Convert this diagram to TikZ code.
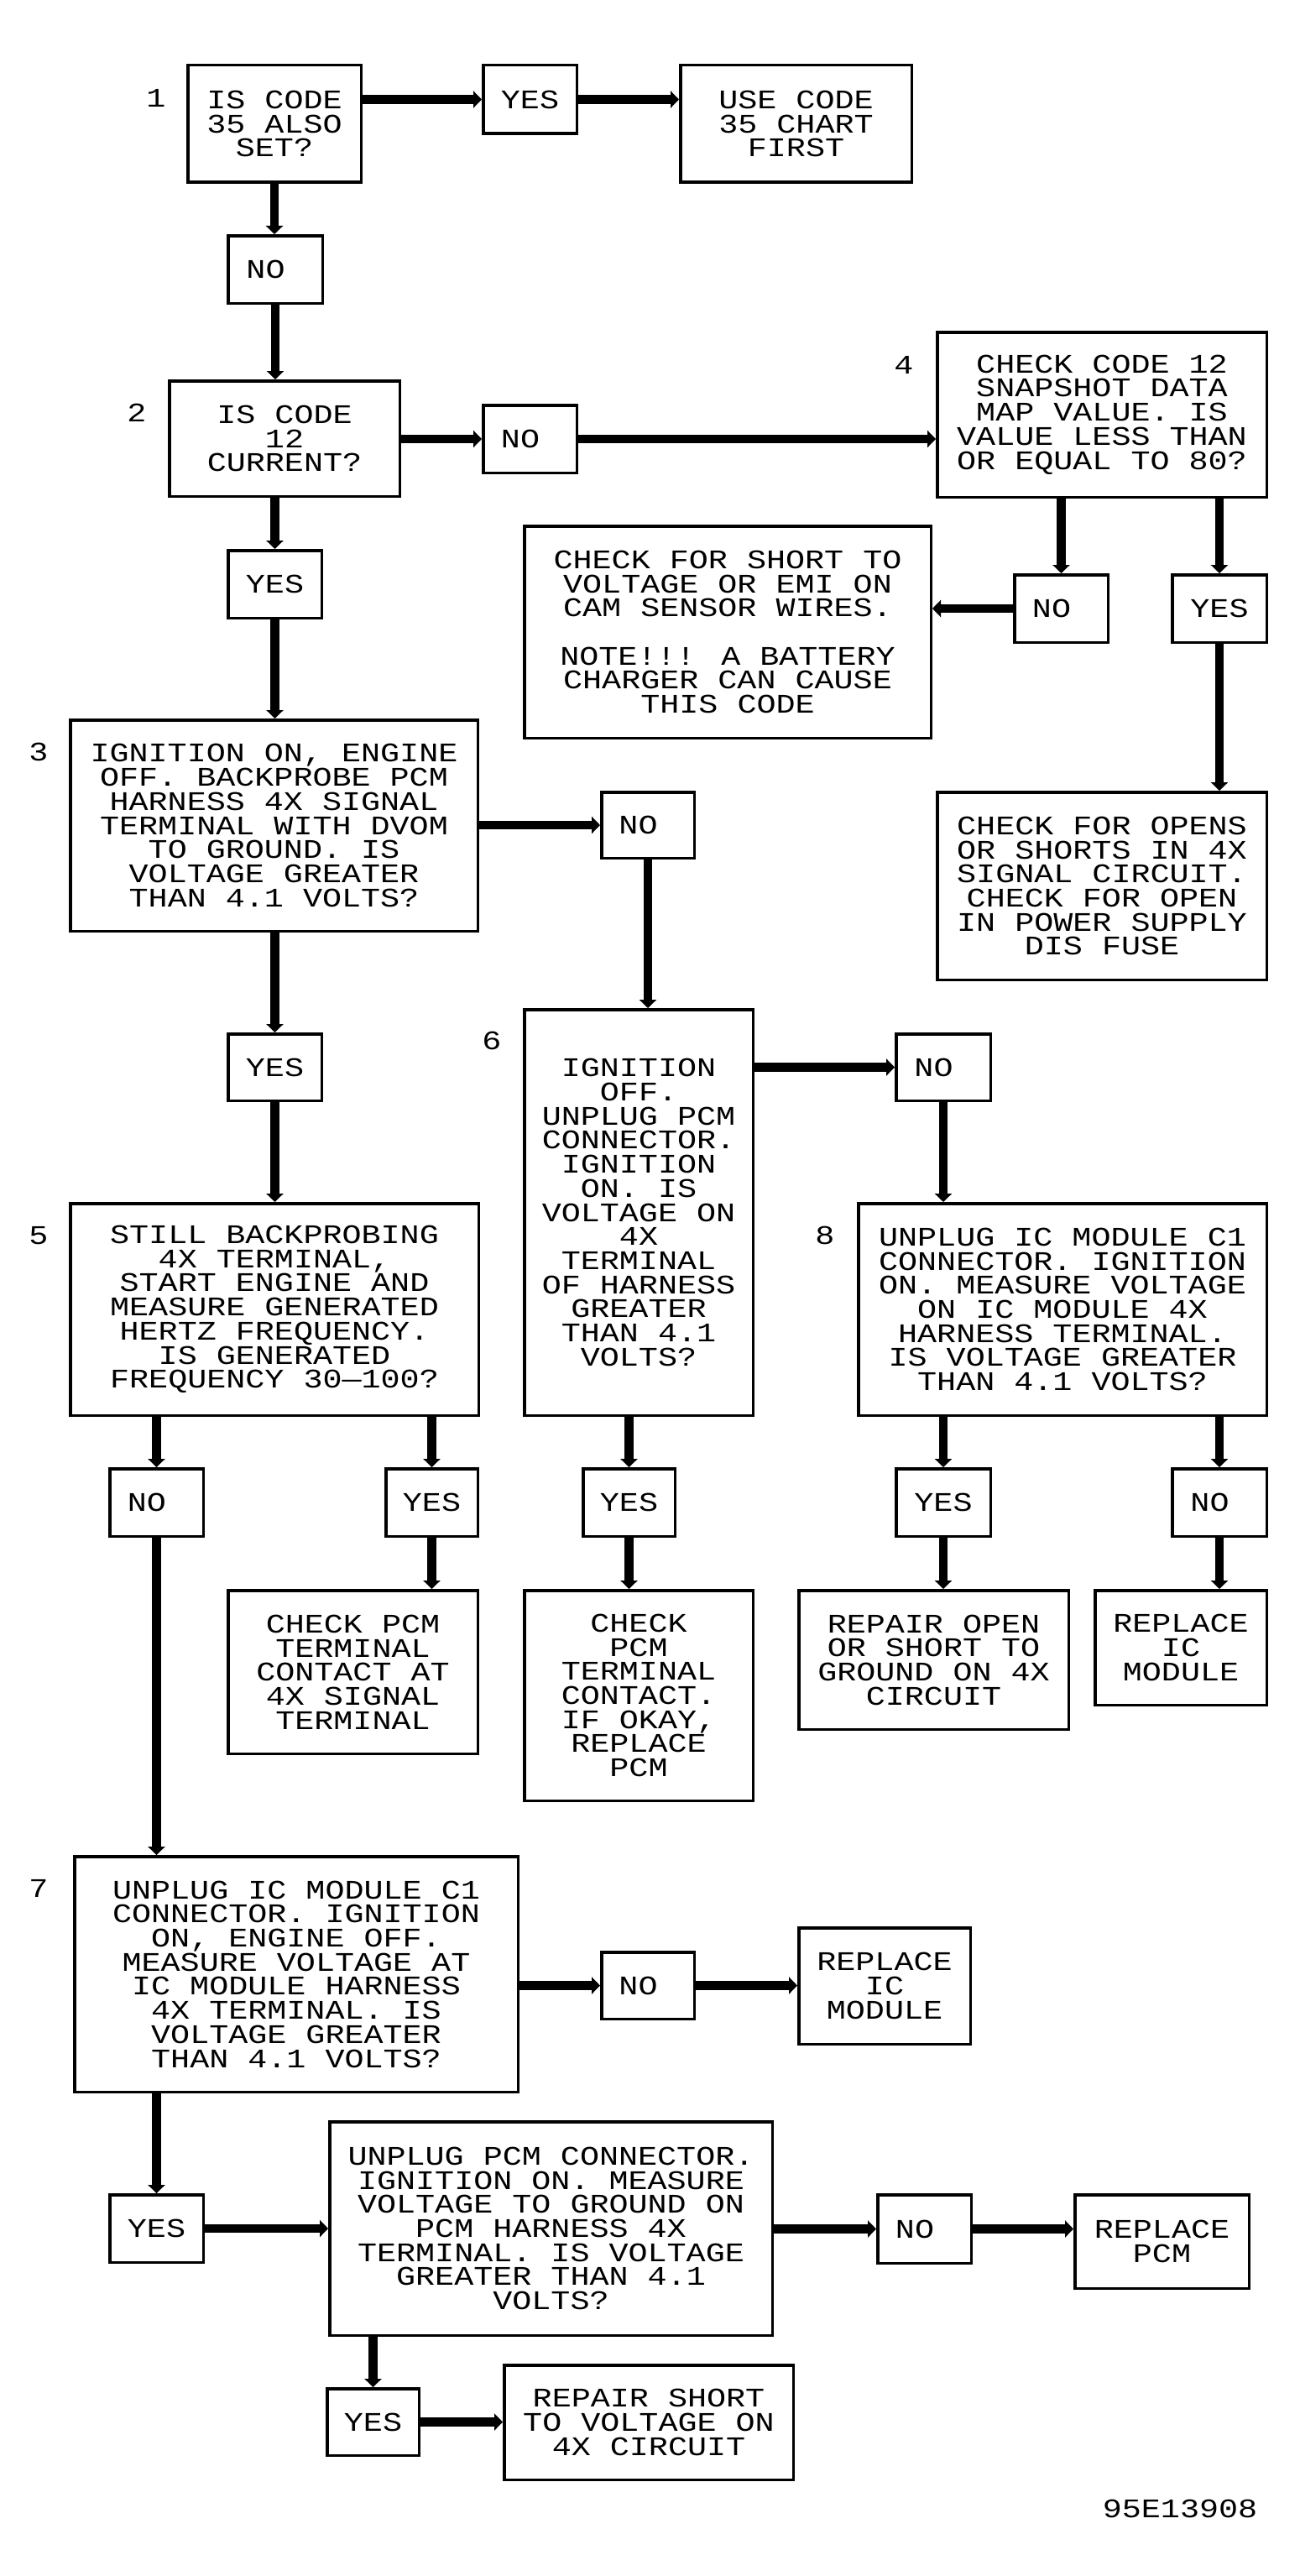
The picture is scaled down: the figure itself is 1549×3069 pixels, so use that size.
\documentclass[tikz,border=0pt]{standalone}
\usepackage{fontspec}
\newfontfamily\txfont{Liberation Mono}[FakeStretch=1.2]
\usetikzlibrary{arrows.meta}
\newcommand\boxfont{\txfont\fontsize{32}{28.7}\selectfont}
\newcommand\mkbox[6]{\node[box, minimum width={#4-#2-3.5}, minimum height={#5-#3-3.5}] (#1) at ({(#2+#4)/2},{(#3+#5)/2}) {#6};}
\newcommand\nosh{\hspace*{23pt}}
\begin{document}
\begin{tikzpicture}[x=1pt,y=-1pt,
  box/.style={draw, line width=3.5pt, inner sep=0pt, align=center, font=\boxfont},
  num/.style={font=\boxfont, inner sep=0pt},
  arr/.style={line width=10.5pt, -{Triangle[width=20pt,length=10pt]}}]
\fill[white] (0,0) rectangle (1549,3069);
\useasboundingbox (0,0) rectangle (1549,3069);

% boxes
\mkbox{b1}{222}{76}{432}{219}{IS CODE\\35 ALSO\\SET?}
\mkbox{yes1}{574}{76}{689}{161}{YES}
\mkbox{use}{809}{76}{1088}{219}{USE CODE\\35 CHART\\FIRST}
\mkbox{no1}{270}{279}{386}{363}{NO\nosh}
\mkbox{b2}{200}{452}{478}{593}{IS CODE\\12\\CURRENT?}
\mkbox{no2}{574}{481}{689}{565}{NO\nosh}
\mkbox{b4}{1115}{394}{1511}{594}{CHECK CODE 12\\SNAPSHOT DATA\\MAP VALUE. IS\\VALUE LESS THAN\\OR EQUAL TO 80?}
\mkbox{yes2}{270}{654}{385}{738}{YES}
\mkbox{short}{623}{625}{1111}{881}{CHECK FOR SHORT TO\\VOLTAGE OR EMI ON\\CAM SENSOR WIRES.\\[28.7pt]NOTE!!! A BATTERY\\CHARGER CAN CAUSE\\THIS CODE}
\mkbox{no4}{1207}{683}{1322}{767}{NO\nosh}
\mkbox{yes4}{1395}{683}{1511}{767}{YES}
\mkbox{b3}{82}{856}{571}{1111}{IGNITION ON, ENGINE\\OFF. BACKPROBE PCM\\HARNESS 4X SIGNAL\\TERMINAL WITH DVOM\\TO GROUND. IS\\VOLTAGE GREATER\\THAN 4.1 VOLTS?}
\mkbox{no3}{715}{942}{829}{1024}{NO\nosh}
\mkbox{opens}{1115}{942}{1511}{1169}{CHECK FOR OPENS\\OR SHORTS IN 4X\\SIGNAL CIRCUIT.\\CHECK FOR OPEN\\IN POWER SUPPLY\\DIS FUSE}
\mkbox{yes3}{270}{1230}{385}{1313}{YES}
\mkbox{b6}{623}{1201}{899}{1688}{IGNITION\\OFF.\\UNPLUG PCM\\CONNECTOR.\\IGNITION\\ON. IS\\VOLTAGE ON\\4X\\TERMINAL\\OF HARNESS\\GREATER\\THAN 4.1\\VOLTS?}
\mkbox{no6}{1066}{1230}{1182}{1313}{NO\nosh}
\mkbox{b5}{82}{1432}{572}{1688}{STILL BACKPROBING\\4X TERMINAL,\\START ENGINE AND\\MEASURE GENERATED\\HERTZ FREQUENCY.\\IS GENERATED\\FREQUENCY 30—100?}
\mkbox{b8}{1021}{1432}{1511}{1688}{UNPLUG IC MODULE C1\\CONNECTOR. IGNITION\\ON. MEASURE VOLTAGE\\ON IC MODULE 4X\\HARNESS TERMINAL.\\IS VOLTAGE GREATER\\THAN 4.1 VOLTS?}
\mkbox{no5}{129}{1748}{244}{1832}{NO\nosh}
\mkbox{yes5}{458}{1748}{571}{1832}{YES}
\mkbox{yes6}{693}{1748}{806}{1832}{YES}
\mkbox{yes8}{1066}{1748}{1182}{1832}{YES}
\mkbox{no8}{1395}{1748}{1511}{1832}{NO\nosh}
\mkbox{c5}{270}{1893}{571}{2091}{CHECK PCM\\TERMINAL\\CONTACT AT\\4X SIGNAL\\TERMINAL}
\mkbox{c6}{623}{1893}{899}{2147}{CHECK\\PCM\\TERMINAL\\CONTACT.\\IF OKAY,\\REPLACE\\PCM}
\mkbox{c8y}{950}{1893}{1275}{2062}{REPAIR OPEN\\OR SHORT TO\\GROUND ON 4X\\CIRCUIT}
\mkbox{c8n}{1303}{1893}{1511}{2033}{REPLACE\\IC\\MODULE}
\mkbox{b7}{87}{2210}{619}{2494}{UNPLUG IC MODULE C1\\CONNECTOR. IGNITION\\ON, ENGINE OFF.\\MEASURE VOLTAGE AT\\IC MODULE HARNESS\\4X TERMINAL. IS\\VOLTAGE GREATER\\THAN 4.1 VOLTS?}
\mkbox{no7}{715}{2324}{829}{2407}{NO\nosh}
\mkbox{r7}{950}{2295}{1158}{2437}{REPLACE\\IC\\MODULE}
\mkbox{yes7}{129}{2613}{244}{2697}{YES}
\mkbox{pcm}{391}{2526}{922}{2784}{UNPLUG PCM CONNECTOR.\\IGNITION ON. MEASURE\\VOLTAGE TO GROUND ON\\PCM HARNESS 4X\\TERMINAL. IS VOLTAGE\\GREATER THAN 4.1\\VOLTS?}
\mkbox{nop}{1044}{2613}{1159}{2698}{NO\nosh}
\mkbox{rp}{1279}{2613}{1490}{2728}{REPLACE\\PCM}
\mkbox{yesp}{388}{2844}{501}{2927}{YES}
\mkbox{rs}{599}{2816}{947}{2956}{REPAIR SHORT\\TO VOLTAGE ON\\4X CIRCUIT}

% step numbers
\node[num] (n1) at (186,117) {1};
\node[num] (n2) at (163,492) {2};
\node[num] (n4) at (1077,435) {4};
\node[num] (n3) at (46,896) {3};
\node[num] (n6) at (586,1240) {6};
\node[num] (n5) at (46,1472) {5};
\node[num] (n8) at (983,1472) {8};
\node[num] (n7) at (46,2250) {7};
\node[num] (fig) at (1406,2989) {95E13908};

% connectors
\draw[arr] (yes1.west -| b1.east) -- (yes1.west);
\draw[arr] (yes1.east) -- (yes1.east -| use.west);
\draw[arr] (b1.south) -- (b1.south |- no1.north);
\draw[arr] (no1.south) -- (no1.south |- b2.north);
\draw[arr] (no2.west -| b2.east) -- (no2.west);
\draw[arr] (no2.east) -- (no2.east -| b4.west);
\draw[arr] (yes2.north |- b2.south) -- (yes2.north);
\draw[arr] (yes2.south) -- (yes2.south |- b3.north);
\draw[arr] (no4.north |- b4.south) -- (no4.north);
\draw[arr] (yes4.north |- b4.south) -- (yes4.north);
\draw[arr] (no4.west) -- (no4.west -| short.east);
\draw[arr] (yes4.south) -- (yes4.south |- opens.north);
\draw[arr] (no3.west -| b3.east) -- (no3.west);
\draw[arr] (no3.south) -- (no3.south |- b6.north);
\draw[arr] (yes3.north |- b3.south) -- (yes3.north);
\draw[arr] (yes3.south) -- (yes3.south |- b5.north);
\draw[arr] (no6.west -| b6.east) -- (no6.west);
\draw[arr] (no6.south) -- (no6.south |- b8.north);
\draw[arr] (no5.north |- b5.south) -- (no5.north);
\draw[arr] (yes5.north |- b5.south) -- (yes5.north);
\draw[arr] (yes5.south) -- (yes5.south |- c5.north);
\draw[arr] (yes6.north |- b6.south) -- (yes6.north);
\draw[arr] (yes6.south) -- (yes6.south |- c6.north);
\draw[arr] (yes8.north |- b8.south) -- (yes8.north);
\draw[arr] (yes8.south) -- (yes8.south |- c8y.north);
\draw[arr] (no8.north |- b8.south) -- (no8.north);
\draw[arr] (no8.south) -- (no8.south |- c8n.north);
\draw[arr] (no5.south) -- (no5.south |- b7.north);
\draw[arr] (no7.west -| b7.east) -- (no7.west);
\draw[arr] (no7.east) -- (no7.east -| r7.west);
\draw[arr] (yes7.north |- b7.south) -- (yes7.north);
\draw[arr] (yes7.east) -- (yes7.east -| pcm.west);
\draw[arr] (nop.west -| pcm.east) -- (nop.west);
\draw[arr] (nop.east) -- (nop.east -| rp.west);
\draw[arr] (yesp.north |- pcm.south) -- (yesp.north);
\draw[arr] (yesp.east) -- (yesp.east -| rs.west);
\end{tikzpicture}
\end{document}
